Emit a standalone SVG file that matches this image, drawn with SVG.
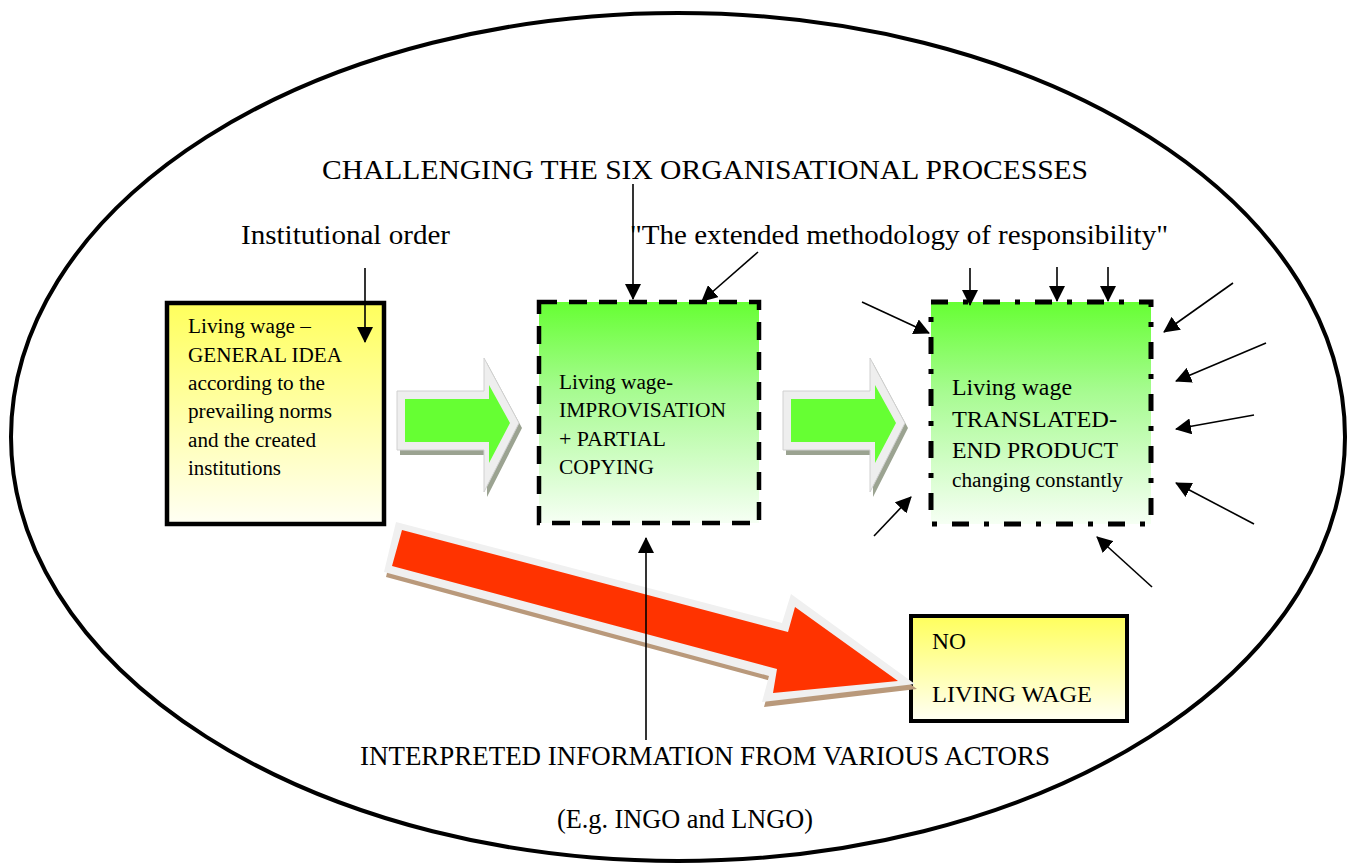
<svg xmlns="http://www.w3.org/2000/svg" width="1348" height="863" viewBox="0 0 1348 863">
<style>
text{font-family:"Liberation Serif","Times New Roman",serif;fill:#000}
.big{font-size:28px}
.bot{font-size:26.5px}
.s20{font-size:20px}
.s24{font-size:23.5px}
.thin{stroke:#000;stroke-width:1.6;fill:none;marker-end:url(#ah)}
.gout{fill:#eeeeee;stroke:#d0d0d0;stroke-width:1}
.gsh{fill:#9ba391}
.gin{fill:#66ff33}
</style>
<defs>
<marker id="ah" viewBox="0 0 16 16" refX="15" refY="8" markerWidth="16" markerHeight="16" markerUnits="userSpaceOnUse" orient="auto">
<path d="M0,0 L16,8 L0,16 z" fill="#000"/>
</marker>
<linearGradient id="yel" x1="0" y1="0" x2="0" y2="1">
<stop offset="0" stop-color="#ffff5c"/>
<stop offset="1" stop-color="#fffff4"/>
</linearGradient>
<linearGradient id="grn" x1="0" y1="0" x2="0" y2="1">
<stop offset="0" stop-color="#66ff33"/>
<stop offset="0.4" stop-color="#a6fb90"/>
<stop offset="1" stop-color="#f6fff4"/>
</linearGradient>
<g id="garrow">
<polygon class="gsh" points="3,38 90,38 90,5 125,70 90,139 90,97 3,97"/>
<polygon class="gout" points="0,33 87,33 87,0 122,65 87,134 87,92 0,92"/>
<polygon class="gin" points="8,41 92,41 92,27 113,65 92,105 92,84 8,84"/>
</g>
</defs>

<g id="boundary">
<ellipse cx="678" cy="437" rx="667" ry="424" fill="none" stroke="#000" stroke-width="4"/>
</g>

<g id="labels">
<text class="big" x="322" y="179" textLength="766" lengthAdjust="spacingAndGlyphs">CHALLENGING THE SIX ORGANISATIONAL PROCESSES</text>
<text class="big" x="241" y="244" textLength="209" lengthAdjust="spacingAndGlyphs">Institutional order</text>
<text class="big" x="630" y="244" textLength="538" lengthAdjust="spacingAndGlyphs">"The extended methodology of responsibility"</text>
<text class="bot" x="360" y="765" textLength="690" lengthAdjust="spacingAndGlyphs">INTERPRETED INFORMATION FROM VARIOUS ACTORS</text>
<text class="bot" x="557" y="828" textLength="256" lengthAdjust="spacingAndGlyphs">(E.g. INGO and LNGO)</text>
</g>

<g id="node-general">
<rect x="167" y="303" width="217" height="221" fill="url(#yel)" stroke="#000" stroke-width="4.5"/>
<text class="s20" x="188" y="333" textLength="123" lengthAdjust="spacingAndGlyphs">Living wage –</text>
<text class="s20" x="188" y="361.5" textLength="154" lengthAdjust="spacingAndGlyphs">GENERAL IDEA</text>
<text class="s20" x="188" y="390" textLength="137" lengthAdjust="spacingAndGlyphs">according to the</text>
<text class="s20" x="188" y="418" textLength="144" lengthAdjust="spacingAndGlyphs">prevailing norms</text>
<text class="s20" x="188" y="446.5" textLength="128" lengthAdjust="spacingAndGlyphs">and the created</text>
<text class="s20" x="188" y="475" textLength="93" lengthAdjust="spacingAndGlyphs">institutions</text>
</g>

<g id="node-improvisation">
<rect x="539" y="302" width="220" height="221" fill="url(#grn)" stroke="#000" stroke-width="4.5" stroke-dasharray="18 12"/>
<text class="s20" x="559" y="389" textLength="114" lengthAdjust="spacingAndGlyphs">Living wage-</text>
<text class="s20" x="559" y="417" textLength="167" lengthAdjust="spacingAndGlyphs">IMPROVISATION</text>
<text class="s20" x="559" y="445.5" textLength="107" lengthAdjust="spacingAndGlyphs">+ PARTIAL</text>
<text class="s20" x="559" y="474" textLength="95" lengthAdjust="spacingAndGlyphs">COPYING</text>
</g>

<g id="node-translated">
<rect x="931" y="302" width="220" height="222" fill="url(#grn)" stroke="#000" stroke-width="5" stroke-dasharray="17 15 5 15"/>
<text class="s24" x="952" y="395" textLength="120" lengthAdjust="spacingAndGlyphs">Living wage</text>
<text class="s24" x="952" y="426.5" textLength="165" lengthAdjust="spacingAndGlyphs">TRANSLATED-</text>
<text class="s24" x="952" y="457.5" textLength="166" lengthAdjust="spacingAndGlyphs">END PRODUCT</text>
<text class="s20" x="952" y="487" textLength="171" lengthAdjust="spacingAndGlyphs">changing constantly</text>
</g>

<g id="node-nolivingwage">
<rect x="911" y="616" width="216" height="105" fill="url(#yel)" stroke="#000" stroke-width="4"/>
<text class="s24" x="932" y="648.5" textLength="34" lengthAdjust="spacingAndGlyphs">NO</text>
<text class="s24" x="932" y="701.5" textLength="160" lengthAdjust="spacingAndGlyphs">LIVING WAGE</text>
</g>

<g id="connectors">
<use href="#garrow" x="397" y="358"/>
<use href="#garrow" x="783" y="358"/>
<polygon fill="#b9997b" points="398,527 386,577 771,681 764,707 917,689 793,599 784,628"/>
<polygon fill="#f0f0f0" points="396,522 384,572 769,676 762,702 915,684 791,594 782,623"/>
<polygon fill="#ff3300" points="402,530 392,566 777,669 773,693 898,681 795,607 788,632"/>

<line class="thin" x1="365" y1="268" x2="365" y2="342"/>
<line class="thin" x1="633" y1="184" x2="633" y2="299"/>
<line class="thin" x1="758" y1="252" x2="702" y2="301"/>
<line class="thin" x1="646" y1="740" x2="646" y2="538"/>
<line class="thin" x1="970" y1="268" x2="970" y2="305"/>
<line class="thin" x1="1057" y1="267" x2="1057" y2="301"/>
<line class="thin" x1="1108" y1="267" x2="1108" y2="301"/>
<line class="thin" x1="862" y1="302" x2="929" y2="333"/>
<line class="thin" x1="1233" y1="283" x2="1164" y2="332"/>
<line class="thin" x1="1266" y1="343" x2="1176" y2="381"/>
<line class="thin" x1="1254" y1="415" x2="1176" y2="429"/>
<line class="thin" x1="1254" y1="524" x2="1176" y2="483"/>
<line class="thin" x1="1152" y1="587" x2="1097" y2="537"/>
<line class="thin" x1="874" y1="536" x2="911" y2="497"/>
</g>
</svg>
